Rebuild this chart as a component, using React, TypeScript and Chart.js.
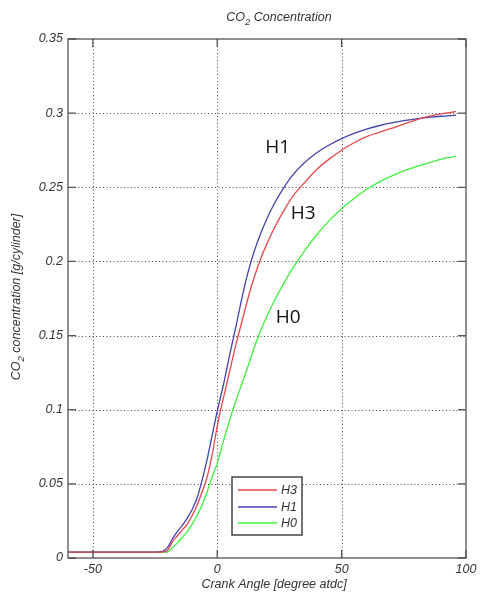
import React, { useEffect, useRef } from 'react';
import { Chart, registerables } from 'chart.js';

Chart.register(...registerables);

const crankAngle = [-60, -50, -40, -30, -25, -22, -20, -18, -16, -14, -12, -10, -8, -6, -4, -2, 0, 2.5, 5, 7.5, 10, 12.5, 15, 17.5, 20, 22.5, 25, 30, 35, 40, 45, 50, 55, 60, 65, 70, 75, 80, 85, 90, 96];
const h3Values = [0.004, 0.004, 0.004, 0.004, 0.004, 0.004, 0.005, 0.011, 0.015, 0.019, 0.023, 0.029, 0.036, 0.045, 0.055, 0.07, 0.089, 0.108, 0.126, 0.144, 0.16, 0.176, 0.19, 0.202, 0.212, 0.221, 0.229, 0.243, 0.253, 0.262, 0.269, 0.275, 0.28, 0.2841, 0.287, 0.2897, 0.2926, 0.2955, 0.2978, 0.2995, 0.301];
const h1Values = [0.004, 0.004, 0.004, 0.004, 0.004, 0.0045, 0.007, 0.013, 0.018, 0.022, 0.027, 0.033, 0.041, 0.053, 0.067, 0.083, 0.099, 0.117, 0.137, 0.156, 0.176, 0.1935, 0.2075, 0.219, 0.229, 0.2375, 0.245, 0.2575, 0.2665, 0.2733, 0.2785, 0.2828, 0.2863, 0.2892, 0.2915, 0.2934, 0.2949, 0.2961, 0.2971, 0.2979, 0.2986];
const h0Values = [0.004, 0.004, 0.004, 0.004, 0.004, 0.004, 0.004, 0.007, 0.01, 0.014, 0.018, 0.023, 0.029, 0.036, 0.045, 0.055, 0.064, 0.079, 0.093, 0.106, 0.118, 0.13, 0.1425, 0.1535, 0.163, 0.172, 0.18, 0.1945, 0.207, 0.218, 0.2275, 0.2355, 0.2425, 0.2485, 0.2535, 0.2575, 0.261, 0.264, 0.2665, 0.269, 0.271];

const xTickValues = [-50, 0, 50, 100];
const yTickValues = [0, 0.05, 0.1, 0.15, 0.2, 0.25, 0.3, 0.35];
const seriesLabels = ['H3', 'H1', 'H0'];
const seriesColors = ['#e5484c', '#4343b3', '#3df23d'];
const curveLabels = ['H1', 'H3', 'H0'];
const curveLabelX = [19.3, 29.5, 23.5];
const curveLabelY = [0.2765, 0.232, 0.162];

const FONT = '"Liberation Sans", Arial, sans-serif';
const TXT = 12.5;

function drawSubText(ctx: CanvasRenderingContext2D, before: string, sub: string, after: string, size: number, cx: number, cy: number) {
  const main = `italic ${size}px ${FONT}`;
  const small = `italic ${size - 3}px ${FONT}`;
  ctx.font = main;
  const w1 = ctx.measureText(before).width;
  const w3 = ctx.measureText(after).width;
  ctx.font = small;
  const w2 = ctx.measureText(sub).width;
  let x = cx - (w1 + w2 + w3) / 2;
  ctx.textAlign = 'left';
  ctx.textBaseline = 'middle';
  ctx.font = main;
  ctx.fillText(before, x, cy);
  x += w1;
  ctx.font = small;
  ctx.fillText(sub, x, cy + 4);
  x += w2;
  ctx.font = main;
  ctx.fillText(after, x, cy);
}

const framePlugin = {
  id: 'matlabFrame',
  beforeDatasetsDraw(chart: any) {
    const { ctx, chartArea } = chart;
    const xs = chart.scales.x;
    const ys = chart.scales.y;
    ctx.save();
    ctx.strokeStyle = '#444';
    ctx.lineWidth = 1;
    ctx.setLineDash([1, 2.5]);
    xTickValues.forEach((v) => {
      const px = Math.round(xs.getPixelForValue(v)) + 0.5;
      if (px <= chartArea.left + 1 || px >= chartArea.right - 1) return;
      ctx.beginPath();
      ctx.moveTo(px, chartArea.top);
      ctx.lineTo(px, chartArea.bottom);
      ctx.stroke();
    });
    yTickValues.forEach((v) => {
      const py = Math.round(ys.getPixelForValue(v)) + 0.5;
      if (py <= chartArea.top + 1 || py >= chartArea.bottom - 1) return;
      ctx.beginPath();
      ctx.moveTo(chartArea.left, py);
      ctx.lineTo(chartArea.right, py);
      ctx.stroke();
    });
    ctx.restore();
  },
  afterDatasetsDraw(chart: any) {
    const { ctx, chartArea } = chart;
    const xs = chart.scales.x;
    const ys = chart.scales.y;
    const { left, right, top, bottom } = chartArea;
    ctx.save();
    ctx.setLineDash([]);
    ctx.strokeStyle = '#555';
    ctx.lineWidth = 1.3;
    ctx.strokeRect(left, top, right - left, bottom - top);
    const tl = 8;
    xTickValues.forEach((v) => {
      const px = xs.getPixelForValue(v);
      ctx.beginPath();
      ctx.moveTo(px, bottom);
      ctx.lineTo(px, bottom - tl);
      ctx.moveTo(px, top);
      ctx.lineTo(px, top + tl);
      ctx.stroke();
    });
    yTickValues.forEach((v) => {
      const py = ys.getPixelForValue(v);
      ctx.beginPath();
      ctx.moveTo(left, py);
      ctx.lineTo(left + tl, py);
      ctx.moveTo(right, py);
      ctx.lineTo(right - tl, py);
      ctx.stroke();
    });

    // legend box
    const bx = 232, by = 477, bw = 70, bh = 58;
    ctx.fillStyle = '#fff';
    ctx.fillRect(bx, by, bw, bh);
    ctx.strokeStyle = '#444';
    ctx.lineWidth = 1.5;
    ctx.strokeRect(bx, by, bw, bh);
    const rowY = [490, 507, 523];
    chart.data.datasets.forEach((ds: any, i: number) => {
      ctx.strokeStyle = ds.borderColor;
      ctx.lineWidth = 1.5;
      ctx.beginPath();
      ctx.moveTo(238, rowY[i]);
      ctx.lineTo(277, rowY[i]);
      ctx.stroke();
      ctx.fillStyle = '#333';
      ctx.font = `italic ${TXT}px ${FONT}`;
      ctx.textAlign = 'left';
      ctx.textBaseline = 'middle';
      ctx.fillText(ds.label, 281, rowY[i] + 1);
    });

    // curve labels
    ctx.fillStyle = '#111';
    ctx.font = `19px "Open Sans", "Noto Sans", sans-serif`;
    ctx.textAlign = 'left';
    ctx.textBaseline = 'middle';
    curveLabels.forEach((t, i) => {
      ctx.fillText(t, xs.getPixelForValue(curveLabelX[i]), ys.getPixelForValue(curveLabelY[i]));
    });

    // title & axis titles
    ctx.fillStyle = '#333';
    drawSubText(ctx, 'CO', '2', ' Concentration', TXT, 279, 18);
    ctx.font = `italic ${TXT}px ${FONT}`;
    ctx.textAlign = 'center';
    ctx.textBaseline = 'middle';
    ctx.fillText('Crank Angle [degree atdc]', 274, 585);
    ctx.save();
    ctx.translate(17, 297);
    ctx.rotate(-Math.PI / 2);
    drawSubText(ctx, 'CO', '2', ' concentration [g/cylinder]', TXT, 0, 0);
    ctx.restore();
    ctx.restore();
  },
};

export default function App() {
  const ref = useRef<HTMLCanvasElement | null>(null);
  useEffect(() => {
    document.body.style.margin = '0';
    const canvas = ref.current!;
    const mk = (vals: number[]) => crankAngle.map((a, i) => ({ x: a, y: vals[i] }));
    const seriesData = [h3Values, h1Values, h0Values];
    const chart = new Chart(canvas, {
      type: 'line',
      data: {
        datasets: seriesLabels.map((lab, i) => ({
          label: lab,
          data: mk(seriesData[i]),
          borderColor: seriesColors[i],
          borderWidth: 1.3,
          pointRadius: 0,
          cubicInterpolationMode: 'monotone' as const,
          fill: false,
        })),
      },
      options: {
        responsive: false,
        animation: false,
        events: [],
        layout: { padding: { left: 0, right: 17, top: 39, bottom: 0 } },
        plugins: { legend: { display: false }, title: { display: false }, tooltip: { enabled: false } },
        scales: {
          x: {
            type: 'linear',
            min: -60,
            max: 100,
            afterBuildTicks: (s: any) => { s.ticks = xTickValues.map((v) => ({ value: v })); },
            afterFit: (s: any) => { s.height = 37; },
            grid: { display: false, drawTicks: false },
            border: { display: false },
            ticks: {
              padding: 4,
              maxRotation: 0,
              autoSkip: false,
              color: '#333',
              font: { family: FONT, size: TXT, style: 'italic' },
              callback: (v: any) => String(v),
            },
          },
          y: {
            type: 'linear',
            min: 0,
            max: 0.35,
            afterBuildTicks: (s: any) => { s.ticks = yTickValues.map((v) => ({ value: v })); },
            afterFit: (s: any) => { s.width = 68; },
            grid: { display: false, drawTicks: false },
            border: { display: false },
            ticks: {
              padding: 5,
              autoSkip: false,
              color: '#333',
              font: { family: FONT, size: TXT, style: 'italic' },
              callback: (v: any) => String(+Number(v).toFixed(2)),
            },
          },
        },
      },
      plugins: [framePlugin],
    });
    return () => chart.destroy();
  }, []);
  return (
    <div style={{ position: 'absolute', left: 0, top: 0, width: 483, height: 595 }}>
      <canvas ref={ref} width={483} height={595} style={{ display: 'block' }} />
    </div>
  );
}
